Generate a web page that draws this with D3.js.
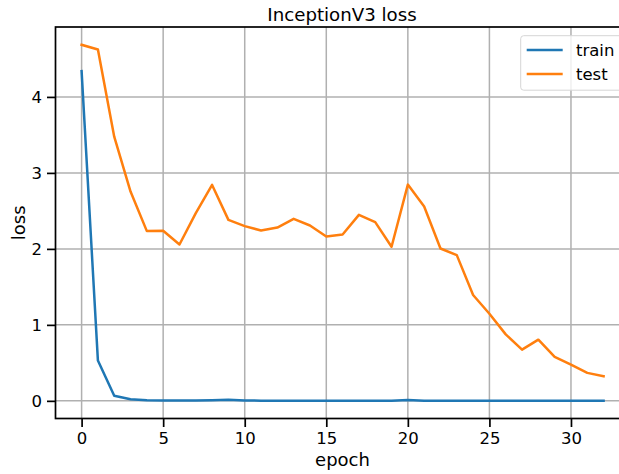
<!DOCTYPE html>
<html>
<head>
<meta charset="utf-8">
<script src="https://cdn.jsdelivr.net/npm/d3@7.9.0/dist/d3.min.js"></script>
<style>
  html, body { margin: 0; padding: 0; background: #fff; }
  svg { display: block; }
</style>
</head>
<body>
<div id="chart"></div>
<script>
// ── Data ──────────────────────────────────────────────────────────────────
var epochs = d3.range(0, 33);
var trainLoss = [4.34, 0.53, 0.066, 0.022, 0.008, 0.006, 0.005, 0.004, 0.007, 0.014,
                 0.004, 0.003, 0.003, 0.003, 0.003, 0.002, 0.002, 0.002, 0.002, 0.002,
                 0.012, 0.003, 0.002, 0.002, 0.002, 0.002, 0.002, 0.002, 0.002, 0.002,
                 0.002, 0.002, 0.002];
var testLoss  = [4.686, 4.625, 3.477, 2.754, 2.234, 2.238, 2.058, 2.47, 2.842, 2.382,
                 2.30, 2.242, 2.281, 2.395, 2.308, 2.163, 2.19, 2.448, 2.352, 2.028,
                 2.846, 2.557, 2.005, 1.918, 1.393, 1.147, 0.875, 0.674, 0.805, 0.578,
                 0.477, 0.368, 0.323];
var seriesNames = ["train", "test"];
var xTicks = [0, 5, 10, 15, 20, 25, 30];
var yTicks = [0, 1, 2, 3, 4];

// ── Layout ────────────────────────────────────────────────────────────────
var W = 619, H = 474;
var L = 55.5, T = 27, R = 629.7, B = 418.5;   // axes box (right edge falls off-canvas)
var FONT = "DejaVu Sans, sans-serif";
var COLORS = ["#1f77b4", "#ff7f0e"];

function padded(lo, hi) { var m = (hi - lo) * 0.05; return [lo - m, hi + m]; }

var allY = trainLoss.concat(testLoss);
var x = d3.scaleLinear().domain(padded(0, epochs.length - 1)).range([L, R]);
var y = d3.scaleLinear().domain(padded(d3.min(allY), d3.max(allY))).range([B, T]);

var svg = d3.select("#chart").append("svg")
  .attr("width", W).attr("height", H)
  .attr("font-family", FONT);

svg.append("defs").append("clipPath").attr("id", "plot-clip")
  .append("rect").attr("x", L).attr("y", T).attr("width", R - L).attr("height", B - T);

// ── Grid ──────────────────────────────────────────────────────────────────
var gridG = svg.append("g").attr("stroke", "#b0b0b0").attr("stroke-width", 1.5);
xTicks.forEach(function (t) {
  gridG.append("line").attr("x1", x(t)).attr("x2", x(t)).attr("y1", T).attr("y2", B);
});
yTicks.forEach(function (t) {
  gridG.append("line").attr("x1", L).attr("x2", R).attr("y1", y(t)).attr("y2", y(t));
});

// ── Lines ─────────────────────────────────────────────────────────────────
var line = d3.line().x(function (d, i) { return x(epochs[i]); }).y(function (d) { return y(d); });
var linesG = svg.append("g").attr("clip-path", "url(#plot-clip)");
[trainLoss, testLoss].forEach(function (s, i) {
  linesG.append("path")
    .attr("d", line(s))
    .attr("fill", "none")
    .attr("stroke", COLORS[i])
    .attr("stroke-width", 2.5)
    .attr("stroke-linejoin", "round")
    .attr("stroke-linecap", "square");
});

// ── Axes ──────────────────────────────────────────────────────────────────
var xAxis = d3.axisBottom(x).tickValues(xTicks).tickFormat(d3.format("d")).tickSize(8.5).tickPadding(5);
var yAxis = d3.axisLeft(y).tickValues(yTicks).tickFormat(d3.format("d")).tickSize(8.5).tickPadding(5);

function styleAxis(g) {
  g.select(".domain").remove();
  g.selectAll(".tick line").attr("stroke", "#000").attr("stroke-width", 1.7);
  g.selectAll(".tick text")
    .attr("fill", "#000")
    .attr("font-size", "16.5px")
    .attr("font-family", FONT);
}

svg.append("g").attr("transform", "translate(0," + B + ")").call(xAxis).call(styleAxis);
svg.append("g").attr("transform", "translate(" + L + ",0)").call(yAxis).call(styleAxis);

// spines
svg.append("rect")
  .attr("x", L).attr("y", T).attr("width", R - L).attr("height", B - T)
  .attr("fill", "none").attr("stroke", "#000").attr("stroke-width", 1.7);

// ── Labels ────────────────────────────────────────────────────────────────
svg.append("text")
  .attr("x", 342).attr("y", 20.7)
  .attr("text-anchor", "middle")
  .attr("font-size", "18.2px")
  .text("InceptionV3 loss");

svg.append("text")
  .attr("x", 342.5).attr("y", 465.5)
  .attr("text-anchor", "middle")
  .attr("font-size", "18px")
  .text("epoch");

svg.append("text")
  .attr("transform", "translate(24.5," + ((T + B) / 2) + ") rotate(-90)")
  .attr("text-anchor", "middle")
  .attr("font-size", "18px")
  .text("loss");

// ── Legend ────────────────────────────────────────────────────────────────
var legG = svg.append("g").attr("transform", "translate(520.7,35.7)");
legG.append("rect")
  .attr("x", 0).attr("y", 0).attr("width", 102).attr("height", 54.5)
  .attr("rx", 3)
  .attr("fill", "rgba(255,255,255,0.8)")
  .attr("stroke", "#d6d6d6").attr("stroke-width", 1);

seriesNames.forEach(function (name, i) {
  var ly = 14.3 + i * 24;
  legG.append("line")
    .attr("x1", 6).attr("x2", 42).attr("y1", ly).attr("y2", ly)
    .attr("stroke", COLORS[i]).attr("stroke-width", 2.5);
  legG.append("text")
    .attr("x", 55.3).attr("y", ly + 6)
    .attr("font-size", "16.5px")
    .text(name);
});
</script>
</body>
</html>
